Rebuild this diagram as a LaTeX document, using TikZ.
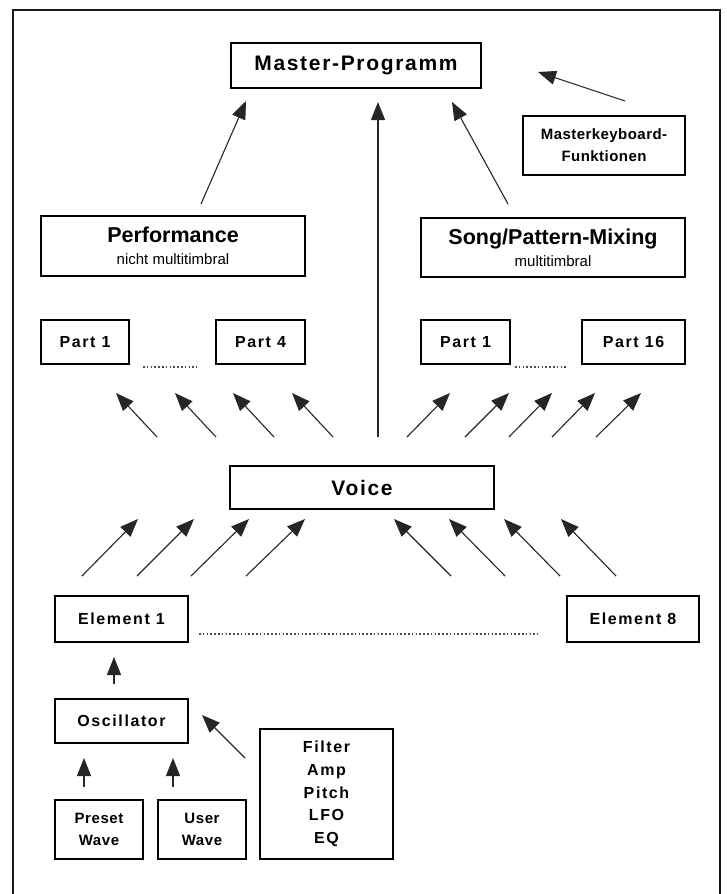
\documentclass[tikz,border=0pt]{standalone}
\usepackage{fontspec}
\setmainfont{Liberation Sans}
\usetikzlibrary{arrows.meta}
\begin{document}
\begin{tikzpicture}[x=1pt,y=-1pt,
  box/.style={draw=black, line width=1.6pt, inner sep=0pt, align=center, fill=white},
  wh/.style 2 args={minimum width=#1pt, minimum height=#2pt},
  big/.style={font=\fontsize{21pt}{24pt}\selectfont\bfseries\addfontfeature{LetterSpace=8}},
  headfont/.style={font=\fontsize{21.5pt}{22pt}\selectfont\bfseries},
  lbl/.style={font=\fontsize{16pt}{22.7pt}\selectfont\bfseries\addfontfeature{LetterSpace=10}},
  lbltight/.style={font=\fontsize{15pt}{21.7pt}\selectfont\bfseries\addfontfeature{LetterSpace=4}},
  mkbfont/.style={font=\fontsize{15pt}{22pt}\selectfont\bfseries\addfontfeature{LetterSpace=3}},
  arr/.style={line width=1.1pt, draw=black!85, -{Triangle[length=18pt,width=14pt]}},
  dotline/.style={line width=1.7pt, draw=black!70, dash pattern=on 1.6pt off 2.2pt}
]
\useasboundingbox (0,0) rectangle (726,894);
% outer frame (open at the bottom)
\draw[line width=2pt, black!90] (13,894) -- (13,10) -- (720,10) -- (720,894);

% boxes
\node[box, big, wh={250}{45}] (master) at (356,65.5) {Master-Programm};
\node[box, mkbfont, wh={162}{59}] (mkb) at (604,145.5) {Masterkeyboard-\\Funktionen};
\node[box, headfont, wh={264}{60}] (perf) at (173,246) {Performance\\{\fontsize{15pt}{22pt}\selectfont\mdseries nicht multitimbral}};
\node[box, headfont, wh={264}{59}] (song) at (553,247.5) {Song/Pattern-Mixing\\{\fontsize{15pt}{22pt}\selectfont\mdseries multitimbral}};
\node[box, lbl, wh={88}{44}] (pa1) at (85,342) {Part 1};
\node[box, lbl, wh={89}{44}] (pa4) at (260.5,342) {Part 4};
\node[box, lbl, wh={89}{44}] (pb1) at (465.5,342) {Part 1};
\node[box, lbl, wh={103}{44}] (pb16) at (633.5,342) {Part 16};
\node[box, big, wh={264}{43}] (voice) at (362,487.5) {Voice};
\node[box, lbl, wh={133}{46}] (el1) at (121.5,619) {Element 1};
\node[box, lbl, wh={132}{46}] (el8) at (633,619) {Element 8};
\node[box, lbl, wh={133}{44}] (osc) at (121.5,721) {Oscillator};
\node[box, lbltight, wh={88}{59}] (preset) at (99,829.5) {Preset\\Wave};
\node[box, lbltight, wh={88}{59}] (user) at (202,829.5) {User\\Wave};
\node[box, lbl, wh={133}{130}] (filter) at (326.5,794) {Filter\\Amp\\Pitch\\LFO\\EQ};

% dotted fillers
\coordinate (da1) at (143,367); \coordinate (da2) at (197,367);
\coordinate (db1) at (515,367); \coordinate (db2) at (568,367);
\coordinate (dc1) at (199,634); \coordinate (dc2) at (538,634);
\draw[dotline] (da1) -- (da2);
\draw[dotline] (db1) -- (db2);
\draw[dotline] (dc1) -- (dc2);

% arrows (tail -> tip)
\foreach \n/\ax/\ay/\bx/\by in {
  mk/625/101/538/72,
  pf/201/204/246/101,
  vt/378/437/378/102,
  sg/508/204/452/102,
  l1/157/437/116/393, l2/216/437/175/393, l3/274/437/233/393, l4/333/437/292/393,
  r1/407/437/450/393, r2/465/437/509/393, r3/509/437/552/393, r4/552/437/595/393, r5/596/437/641/393,
  e1/82/576/138/519, e2/137/576/194/519, e3/191/576/249/519, e4/246/576/305/519,
  f1/451/576/394/519, f2/505/576/449/519, f3/560/576/504/519, f4/616/576/561/519,
  os/114/684/114/657,
  fi/245/758/202/715,
  pw/84/787/84/758,
  uw/173/787/173/758}
{
  \coordinate (t\n) at (\ax,\ay);
  \coordinate (h\n) at (\bx,\by);
  \draw[arr] (t\n) -- (h\n);
}
\end{tikzpicture}
\end{document}
